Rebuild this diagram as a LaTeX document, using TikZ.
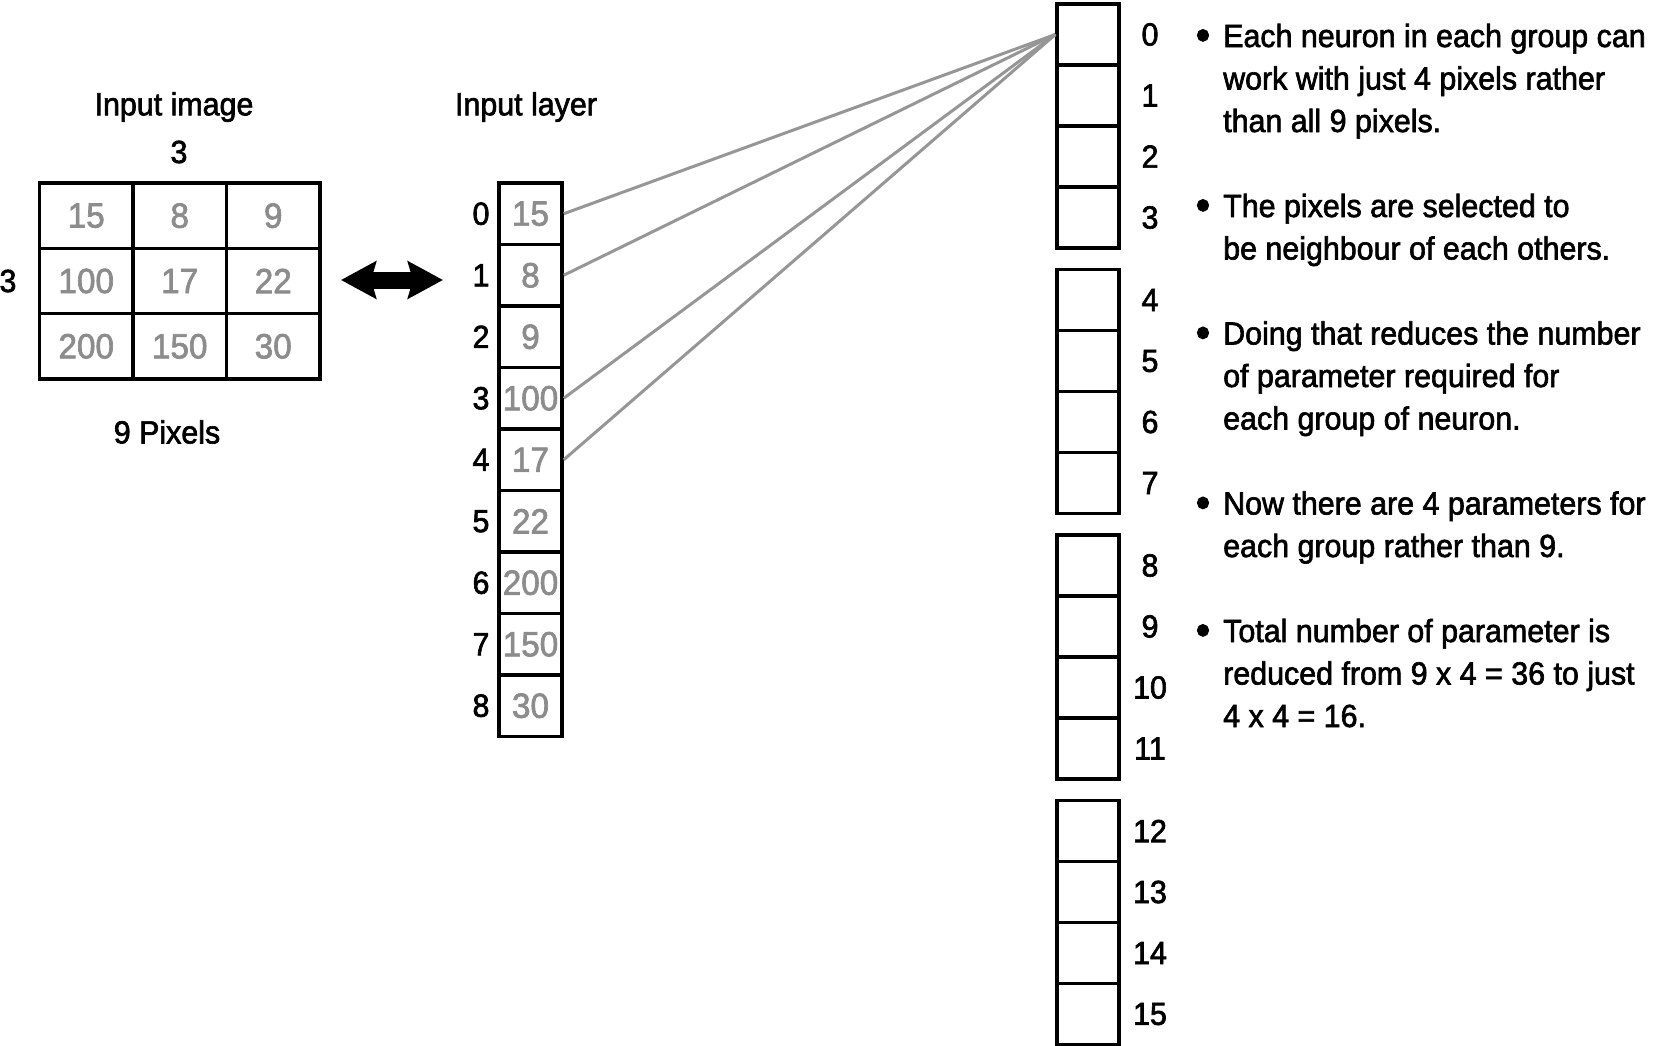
\documentclass[tikz,border=0pt]{standalone}
\usepackage{fontspec}
\setmainfont{Liberation Sans}[FakeStretch=0.95,FakeBold=2]
\usetikzlibrary{arrows.meta,positioning}
\definecolor{cellgray}{RGB}{140,140,140}
\definecolor{wiregray}{RGB}{150,150,150}
\tikzset{
    pixel/.style = {draw, rectangle, line width=3.5pt,
        minimum width=93.5pt,
        minimum height=65.3pt, inner sep=0pt, text=cellgray,
        font=\fontsize{35pt}{40pt}\selectfont},
    unit/.style = {draw, rectangle, line width=3.5pt,
        minimum width=63pt,
        minimum height=61.5pt, inner sep=0pt, text=cellgray,
        font=\fontsize{35pt}{40pt}\selectfont},
    neuron/.style = {draw, rectangle, line width=3.3pt,
        minimum width=62pt,
        minimum height=61pt, inner sep=0pt},
    lbl/.style = {inner sep=0pt, font=\fontsize{32pt}{40pt}\selectfont},
    note/.style = {inner sep=0pt, align=left, anchor=base west, font=\fontsize{32pt}{42.5pt}\selectfont},
    dot/.style = {inner sep=0pt, anchor=base, font=\fontsize{44pt}{44pt}\selectfont},
    wire/.style = {draw=wiregray, line width=3pt},
    swap/.style = {line width=17pt, {Stealth[length=35pt,width=37pt,inset=5pt]}-{Stealth[length=35pt,width=37pt,inset=5pt]}}
}

\begin{document}
\begin{tikzpicture}[x=1pt,y=-1pt]
    \useasboundingbox (0,0) rectangle (1654,1046);
    \node[lbl] (imgtitle) at (174,107) {Input image};
    \node[lbl] (laytitle) at (526,107) {Input layer};
    \node[lbl] (wide) at (179,152) {3};
    \node[lbl] (high) at (8,281) {3};
    \node[lbl] (npix) at (167,432) {9 Pixels};
    \foreach \a/\b/\c [count=\r from 0] in {15/8/9,100/17/22,200/150/30} {
        \node[pixel] (p\r a) at (86.25,{215.7+65.3*\r}) {\a};
        \node[pixel] (p\r b) at (179.75,{215.7+65.3*\r}) {\b};
        \node[pixel] (p\r c) at (273.25,{215.7+65.3*\r}) {\c};
    }
    \coordinate (swl) at (341,280);
    \coordinate (swr) at (443,280);
    \draw[swap] (swl) -- (swr);
    \foreach \v [count=\i from 0] in {15,8,9,100,17,22,200,150,30} {
        \node[unit] (in\i) at (530.5,{213.75+61.5*\i}) {\v};
        \node[lbl] (k\i) at (481,{213.75+61.5*\i}) {\i};
    }
    \foreach \g in {0,...,3} {
        \foreach \j in {0,...,3} {
            \pgfmathtruncatemacro\n{4*\g+\j}
            \node[neuron] (nr\n) at (1088,{34.5+265.5*\g+61*\j}) {};
            \node[lbl] (m\n) at (1150,{34.5+265.5*\g+61*\j}) {\n};
        }
    }
    \foreach \i in {0,1,3,4}
        \draw[wire] (in\i.east) -- (nr0.west);
    \node[dot] (d1) at (1203,50) {•};
    \node[note] (t1) at (1223,132) {Each neuron in each group can\\work with just 4 pixels rather\\than all 9 pixels.};
    \node[dot] (d2) at (1203,220) {•};
    \node[note] (t2) at (1223,259.5) {The pixels are selected to\\be neighbour of each others.};
    \node[dot] (d3) at (1203,347.5) {•};
    \node[note] (t3) at (1223,429.5) {Doing that reduces the number\\of parameter required for\\each group of neuron.};
    \node[dot] (d4) at (1203,517.5) {•};
    \node[note] (t4) at (1223,557) {Now there are 4 parameters for\\each group rather than 9.};
    \node[dot] (d5) at (1203,645) {•};
    \node[note] (t5) at (1223,727) {Total number of parameter is\\reduced from 9 x 4 = 36 to just\\4 x 4 = 16.};
\end{tikzpicture}
\end{document}
